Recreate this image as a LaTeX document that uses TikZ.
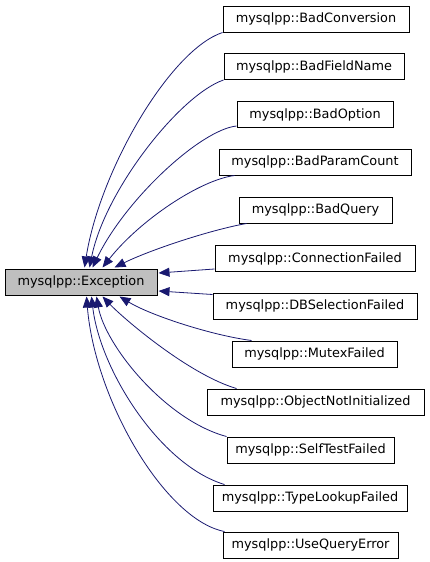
\documentclass[tikz,border=0pt]{standalone}
\usepackage{fontspec}
\setmainfont{DejaVu Sans}
\usetikzlibrary{arrows.meta}
\definecolor{edgeblue}{HTML}{191970}
\definecolor{basegray}{HTML}{BFBFBF}
\tikzset{
  cls/.style={draw=black, line width=1pt, inner sep=0pt, minimum height=26pt, font=\fontsize{12.85}{15}\selectfont, text=black},
  base/.style={cls, fill=basegray},
  inh/.style={draw=edgeblue, line width=0.8pt, -{Triangle[length=11pt,width=9pt]}, edgeblue},
}
\begin{document}
\begin{tikzpicture}[x=1pt,y=-1pt]
\useasboundingbox (0,0) rectangle (429,562);
\node[base, minimum width=152pt] (ex) at (81,282) {mysqlpp::Exception};
\node[cls, minimum width=186pt] (bc)  at (316,19)    {mysqlpp::BadConversion};
\node[cls, minimum width=180pt] (bfn) at (314,66.5)  {mysqlpp::BadFieldName};
\node[cls, minimum width=156pt] (bo)  at (315,114.5) {mysqlpp::BadOption};
\node[cls, minimum width=192pt] (bpc) at (315,162)   {mysqlpp::BadParamCount};
\node[cls, minimum width=153pt] (bq)  at (315.5,210) {mysqlpp::BadQuery};
\node[cls, minimum width=200pt] (cf)  at (315,258.5) {mysqlpp::ConnectionFailed};
\node[cls, minimum width=204pt] (db)  at (315,306)   {mysqlpp::DBSelectionFailed};
\node[cls, minimum width=165pt] (mf)  at (314.5,354) {mysqlpp::MutexFailed};
\node[cls, minimum width=217pt] (oni) at (315.5,402) {mysqlpp::ObjectNotInitialized};
\node[cls, minimum width=167pt] (stf) at (310.5,450) {mysqlpp::SelfTestFailed};
\node[cls, minimum width=194pt] (tlf) at (310,498)   {mysqlpp::TypeLookupFailed};
\node[cls, minimum width=175pt] (uqe) at (310.5,545) {mysqlpp::UseQueryError};

\draw[inh] (bc.south west) .. controls (170,50) and (100,170) .. ([xshift=80pt,yshift=1pt]ex.north west);
\draw[inh] (bfn.south west) .. controls (180,95) and (105,190) .. ([xshift=85pt,yshift=1pt]ex.north west);
\draw[inh] ([yshift=2pt]bo.south west) .. controls (200,130) and (125,200) .. ([xshift=88pt,yshift=1pt]ex.north west);
\draw[inh] ([xshift=16pt]bpc.south west) .. controls (200,180) and (140,220) .. ([xshift=98pt,yshift=1pt]ex.north west);
\draw[inh] ([xshift=8pt]bq.south west) .. controls (210,230) and (150,250) .. ([xshift=110pt,yshift=1pt]ex.north west);
\draw[inh] ([yshift=3pt]cf.south west) -- ([xshift=1pt,yshift=9pt]ex.east);
\draw[inh] ([yshift=-2pt]db.north west) -- ([xshift=1pt,yshift=-9pt]ex.east);
\draw[inh] ([xshift=20pt]mf.north west) .. controls (210,335) and (150,315) .. ([xshift=115pt,yshift=-1pt]ex.south west);
\draw[inh] ([xshift=30pt]oni.north west) .. controls (190,375) and (125,320) .. ([xshift=98pt,yshift=-1pt]ex.south west);
\draw[inh] (stf.north west) .. controls (165,420) and (105,345) .. ([xshift=92pt,yshift=-1pt]ex.south west);
\draw[inh] ([xshift=12pt]tlf.north west) .. controls (160,465) and (100,370) .. ([xshift=87pt,yshift=-1pt]ex.south west);
\draw[inh] ([xshift=2pt]uqe.north west) .. controls (165,520) and (95,400) .. ([xshift=82pt,yshift=-1pt]ex.south west);
\end{tikzpicture}
\end{document}
